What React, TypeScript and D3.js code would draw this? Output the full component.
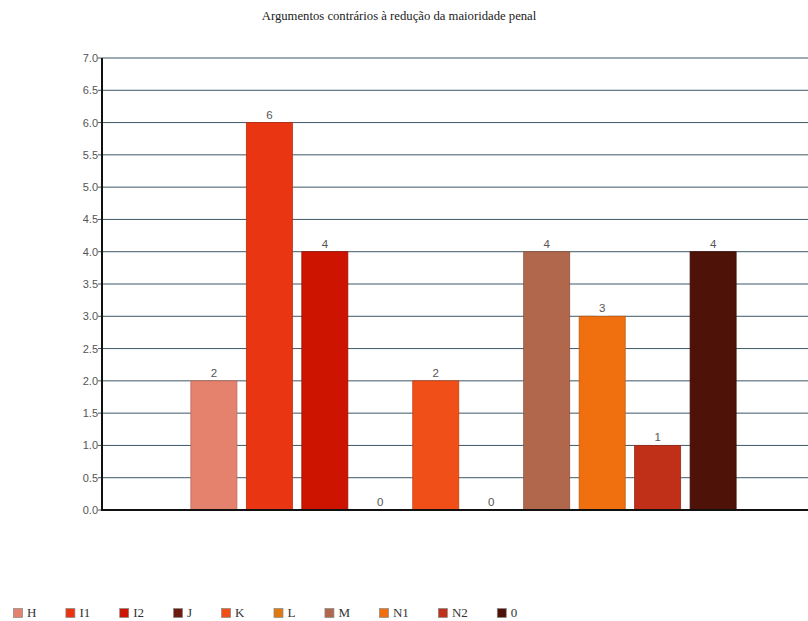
import React from "react";
import * as d3 from "d3";

const title = "Argumentos contrários à redução da maioridade penal";
const series = ["H", "I1", "I2", "J", "K", "L", "M", "N1", "N2", "0"];
const values = [2, 6, 4, 0, 2, 0, 4, 3, 1, 4];
const colors = ["#e5826d", "#ea3512", "#cc1400", "#6e1a0e", "#f05018", "#e07a10", "#b0674b", "#f07010", "#c03018", "#4e1208"];
const yTicks = [0, 0.5, 1, 1.5, 2, 2.5, 3, 3.5, 4, 4.5, 5, 5.5, 6, 6.5, 7];
const groups = ["Argumentos"];

const W = 808;
const H = 621;
const left = 102;
const right = 825;
const top = 58;
const bottom = 510;
const legendFont = "13px 'Liberation Serif', 'Times New Roman', serif";

function measure(text: string): number {
  const ctx = document.createElement("canvas").getContext("2d");
  if (!ctx) return text.length * 7;
  ctx.font = legendFont;
  return ctx.measureText(text).width;
}

export default function App() {
  const y = d3.scaleLinear().domain([0, 7]).range([bottom, top]);
  const x0 = d3.scaleBand<string>().domain(groups).range([left, right]).paddingOuter(0.163).paddingInner(0);
  const x1 = d3.scaleBand<string>().domain(series).range([0, x0.bandwidth()]).paddingInner(0.17).paddingOuter(0);
  const g0 = x0(groups[0]) as number;
  const legendPos: number[] = [];
  let acc = 13;
  series.forEach((s) => {
    legendPos.push(acc);
    acc += 43 + measure(s);
  });

  return (
    <svg width={W} height={H} style={{ position: "absolute", left: 0, top: 0 }} fontFamily="'Liberation Sans', Arial, sans-serif">
      <rect width={W} height={H} fill="#fff" />
      <text x={399} y={20} textAnchor="middle" fontFamily="'Liberation Serif', 'Times New Roman', serif" fontSize={12.7} fill="#222">{title}</text>
      {yTicks.map((t) => (
        <g key={t}>
          {t > 0 && <line x1={left} x2={W} y1={y(t)} y2={y(t)} stroke="#3d5866" strokeWidth={1} />}
          <line x1={left - 4} x2={left} y1={y(t)} y2={y(t)} stroke="#555" strokeWidth={1} />
          <text x={left - 4} y={y(t) + 4} textAnchor="end" fontSize={11} fill="#555">{t.toFixed(1)}</text>
        </g>
      ))}
      {series.map((s, i) => {
        const bx = g0 + (x1(s) as number);
        const bw = x1.bandwidth();
        const v = values[i];
        const yt = y(v);
        const label = String(v);
        return (
          <g key={s}>
            {v > 0 && (
              <rect x={bx} y={yt} width={bw} height={bottom - yt} fill={colors[i]} stroke={d3.color(colors[i])!.darker(0.6).toString()} strokeWidth={0.8} />
            )}
            {v > 0 && <rect x={bx + bw / 2 - 6} y={yt - 13} width={12} height={12} fill="#fff" />}
            <text x={bx + bw / 2} y={yt - 4} textAnchor="middle" fontSize={11.5} fill="#555">{label}</text>
          </g>
        );
      })}
      <line x1={left} x2={W} y1={bottom} y2={bottom} stroke="#111" strokeWidth={2} />
      <line x1={left} x2={left} y1={top} y2={bottom + 1} stroke="#111" strokeWidth={2} />
      {series.map((s, i) => {
        const lx = legendPos[i];
        return (
          <g key={"l" + s}>
            <rect x={lx + 0.5} y={608.5} width={9} height={9} fill={colors[i]} stroke="#888" strokeWidth={0.7} />
            <text x={lx + 14} y={617} fontFamily="'Liberation Serif', 'Times New Roman', serif" fontSize={13} fill="#333">{s}</text>
          </g>
        );
      })}
    </svg>
  );
}
